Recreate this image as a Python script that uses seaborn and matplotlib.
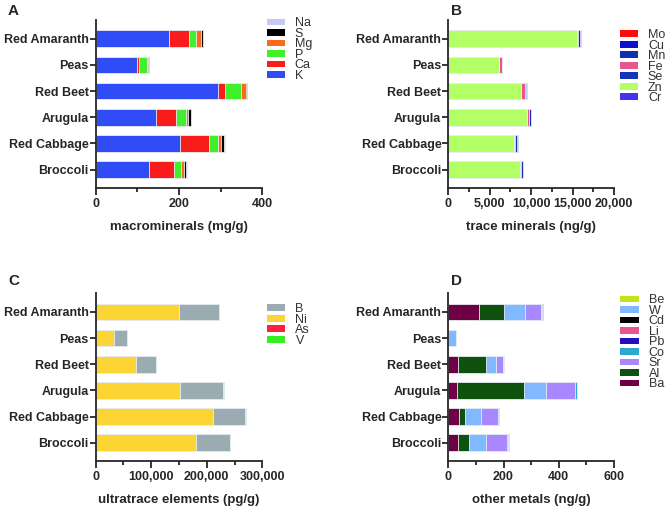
import numpy as np
import pandas as pd
import seaborn as sns
import matplotlib.pyplot as plt
from matplotlib.patches import Patch
from matplotlib.ticker import MultipleLocator, StrMethodFormatter

veggies = ['Red Amaranth', 'Peas', 'Red Beet', 'Arugula', 'Red Cabbage', 'Broccoli']

# A - macrominerals (mg/g)
K = [177, 100, 293, 146, 202, 129]
Ca = [48, 5, 18, 48, 70, 60]
P = [17, 19, 39, 24, 22, 16]
Mg = [12, 1.5, 11, 4, 7, 8]
S = [3, 1.5, 2, 7, 8, 5]
Na = [0.5, 0.3, 0.5, 0.5, 0.5, 0.5]

# B - trace minerals (ng/g)
Cr = [15, 5, 10, 10, 10, 10]
Zn = [15475, 6110, 8800, 9485, 7915, 8640]
Se = [5, 2, 5, 5, 5, 5]
Fe = [200, 320, 400, 280, 160, 120]
Mn = [200, 10, 180, 150, 200, 200]
Cu = [75, 5, 55, 45, 75, 75]
Mo = [10, 3, 5, 5, 5, 5]

# C - ultratrace elements (pg/g)
Ni = [150000, 33600, 72000, 151800, 211800, 180600]
B = [72600, 23400, 36600, 78000, 57600, 61200]
As = [100, 50, 100, 300, 100, 100]
V = [200, 100, 400, 400, 300, 700]

# D - other metals (ng/g)
Ba = [110, 0, 37, 32, 40, 34]
Al = [90, 0, 101, 242, 20, 40]
W = [76, 28, 36, 79, 59, 61]
Sr = [61, 0, 23, 107, 60, 79]
Co = [3.5, 0.5, 2, 5, 3.5, 3.5]
Pb = [0.3, 0, 0.3, 0.3, 0.3, 0.3]
Li = [0.3, 0, 0.3, 0.3, 0.3, 0.3]
Cd = [0.3, 0, 0.3, 0.3, 0.3, 0.3]
Be = [0.2, 0, 0.2, 0.2, 0.2, 0.2]

sns.set_theme(style='ticks')
plt.rcParams['font.family'] = ['Liberation Sans', 'DejaVu Sans']
plt.rcParams['axes.linewidth'] = 1.3
plt.rcParams['xtick.major.width'] = 1.3
plt.rcParams['ytick.major.width'] = 1.3
plt.rcParams['xtick.minor.width'] = 1.3


def stacked(ax, layers, legend_order, colors):
    # cumulative sums, drawn longest first so shorter ones sit on top
    cum = np.zeros(len(veggies))
    totals = []
    for name, vals in layers:
        cum = cum + np.array(vals, dtype=float)
        totals.append((name, cum.copy()))
    for name, tot in reversed(totals):
        d = pd.DataFrame({'veg': veggies, 'val': tot})
        sns.barplot(data=d, x='val', y='veg', order=veggies, orient='h',
                    color=colors[name], saturation=1, width=0.64,
                    linewidth=0.6, edgecolor='#e8eef4', ax=ax)
    handles = [Patch(facecolor=colors[n], edgecolor='none', label=n) for n in legend_order]
    sns.despine(ax=ax)
    ax.set_ylabel('')
    ax.set_ylim(5.7, -0.72)
    ax.tick_params(axis='y', length=4, labelsize=9, pad=1)
    ax.tick_params(axis='x', which='major', length=5, labelsize=9, pad=2)
    ax.tick_params(axis='x', which='minor', length=3)
    for t in ax.get_yticklabels() + ax.get_xticklabels():
        t.set_fontweight('bold')
    return handles


fig = plt.figure(figsize=(6.65, 5.12), dpi=100)
axA = fig.add_axes([0.1439, 0.633, 0.2505, 0.328])
axB = fig.add_axes([0.6741, 0.633, 0.2492, 0.328])
axC = fig.add_axes([0.1439, 0.0996, 0.2505, 0.328])
axD = fig.add_axes([0.6741, 0.0996, 0.2492, 0.328])

# A
cA = {'K': '#2f4cf6', 'Ca': '#f81c1c', 'P': '#3ff02a', 'Mg': '#fb6a1c', 'S': '#000000', 'Na': '#c8c8f4'}
hA = stacked(axA, [('K', K), ('Ca', Ca), ('P', P), ('Mg', Mg), ('S', S), ('Na', Na)],
             ['Na', 'S', 'Mg', 'P', 'Ca', 'K'], cA)
axA.set_xlim(0, 400)
axA.xaxis.set_major_locator(MultipleLocator(200))
axA.xaxis.set_minor_locator(MultipleLocator(100))
axA.set_xlabel('macrominerals (mg/g)', fontsize=9.5, fontweight='bold', labelpad=8)

# B
cB = {'Mo': '#ff0a0a', 'Cu': '#1010cc', 'Mn': '#1030b0', 'Fe': '#e8558f', 'Se': '#1535b5',
      'Zn': '#b3ff66', 'Cr': '#4433ee'}
hB = stacked(axB, [('Cr', Cr), ('Zn', Zn), ('Se', Se), ('Fe', Fe), ('Mn', Mn), ('Cu', Cu), ('Mo', Mo)],
             ['Mo', 'Cu', 'Mn', 'Fe', 'Se', 'Zn', 'Cr'], cB)
axB.set_xlim(0, 20000)
axB.xaxis.set_major_locator(MultipleLocator(5000))
axB.xaxis.set_minor_locator(MultipleLocator(2500))
axB.xaxis.set_major_formatter(StrMethodFormatter('{x:,.0f}'))
axB.set_xlabel('trace minerals (ng/g)', fontsize=9.5, fontweight='bold', labelpad=8)

# C
cC = {'B': '#9aabb1', 'Ni': '#fcd535', 'As': '#ff2040', 'V': '#33ee22'}
hC = stacked(axC, [('Ni', Ni), ('B', B), ('As', As), ('V', V)],
             ['B', 'Ni', 'As', 'V'], cC)
axC.set_xlim(0, 300000)
axC.xaxis.set_major_locator(MultipleLocator(100000))
axC.xaxis.set_minor_locator(MultipleLocator(50000))
axC.xaxis.set_major_formatter(StrMethodFormatter('{x:,.0f}'))
axC.set_xlabel('ultratrace elements (pg/g)', fontsize=9.5, fontweight='bold', labelpad=8)

# D
cD = {'Be': '#c4e31a', 'W': '#80b9ff', 'Cd': '#000000', 'Li': '#e8558f', 'Pb': '#2010c0',
      'Co': '#2fa8d0', 'Sr': '#a887ff', 'Al': '#0f5210', 'Ba': '#6e0045'}
hD = stacked(axD, [('Ba', Ba), ('Al', Al), ('W', W), ('Sr', Sr), ('Co', Co), ('Pb', Pb),
                   ('Li', Li), ('Cd', Cd), ('Be', Be)],
             ['Be', 'W', 'Cd', 'Li', 'Pb', 'Co', 'Sr', 'Al', 'Ba'], cD)
axD.set_xlim(0, 600)
axD.xaxis.set_major_locator(MultipleLocator(200))
axD.xaxis.set_minor_locator(MultipleLocator(100))
axD.set_xlabel('other metals (ng/g)', fontsize=9.5, fontweight='bold', labelpad=8)

# legends
leg_kw = dict(loc='upper left', frameon=False, fontsize=9, handlelength=1.45, handleheight=0.45,
              handletextpad=0.8, labelspacing=-0.12, borderpad=0, borderaxespad=0,
              labelcolor='#333333', bbox_transform=fig.transFigure)
fig.legend(handles=hA, bbox_to_anchor=(0.401, 0.966), **leg_kw)
fig.legend(handles=hB, bbox_to_anchor=(0.932, 0.943), **leg_kw)
fig.legend(handles=hC, bbox_to_anchor=(0.402, 0.408), **leg_kw)
fig.legend(handles=hD, bbox_to_anchor=(0.933, 0.425), **leg_kw)

# panel letters
for lab, x, y in [('A', 0.012, 0.993), ('B', 0.678, 0.993), ('C', 0.012, 0.465), ('D', 0.678, 0.465)]:
    fig.text(x, y, lab, fontsize=11, fontweight='bold', va='top', ha='left')

fig.savefig('out.png', dpi=100)
